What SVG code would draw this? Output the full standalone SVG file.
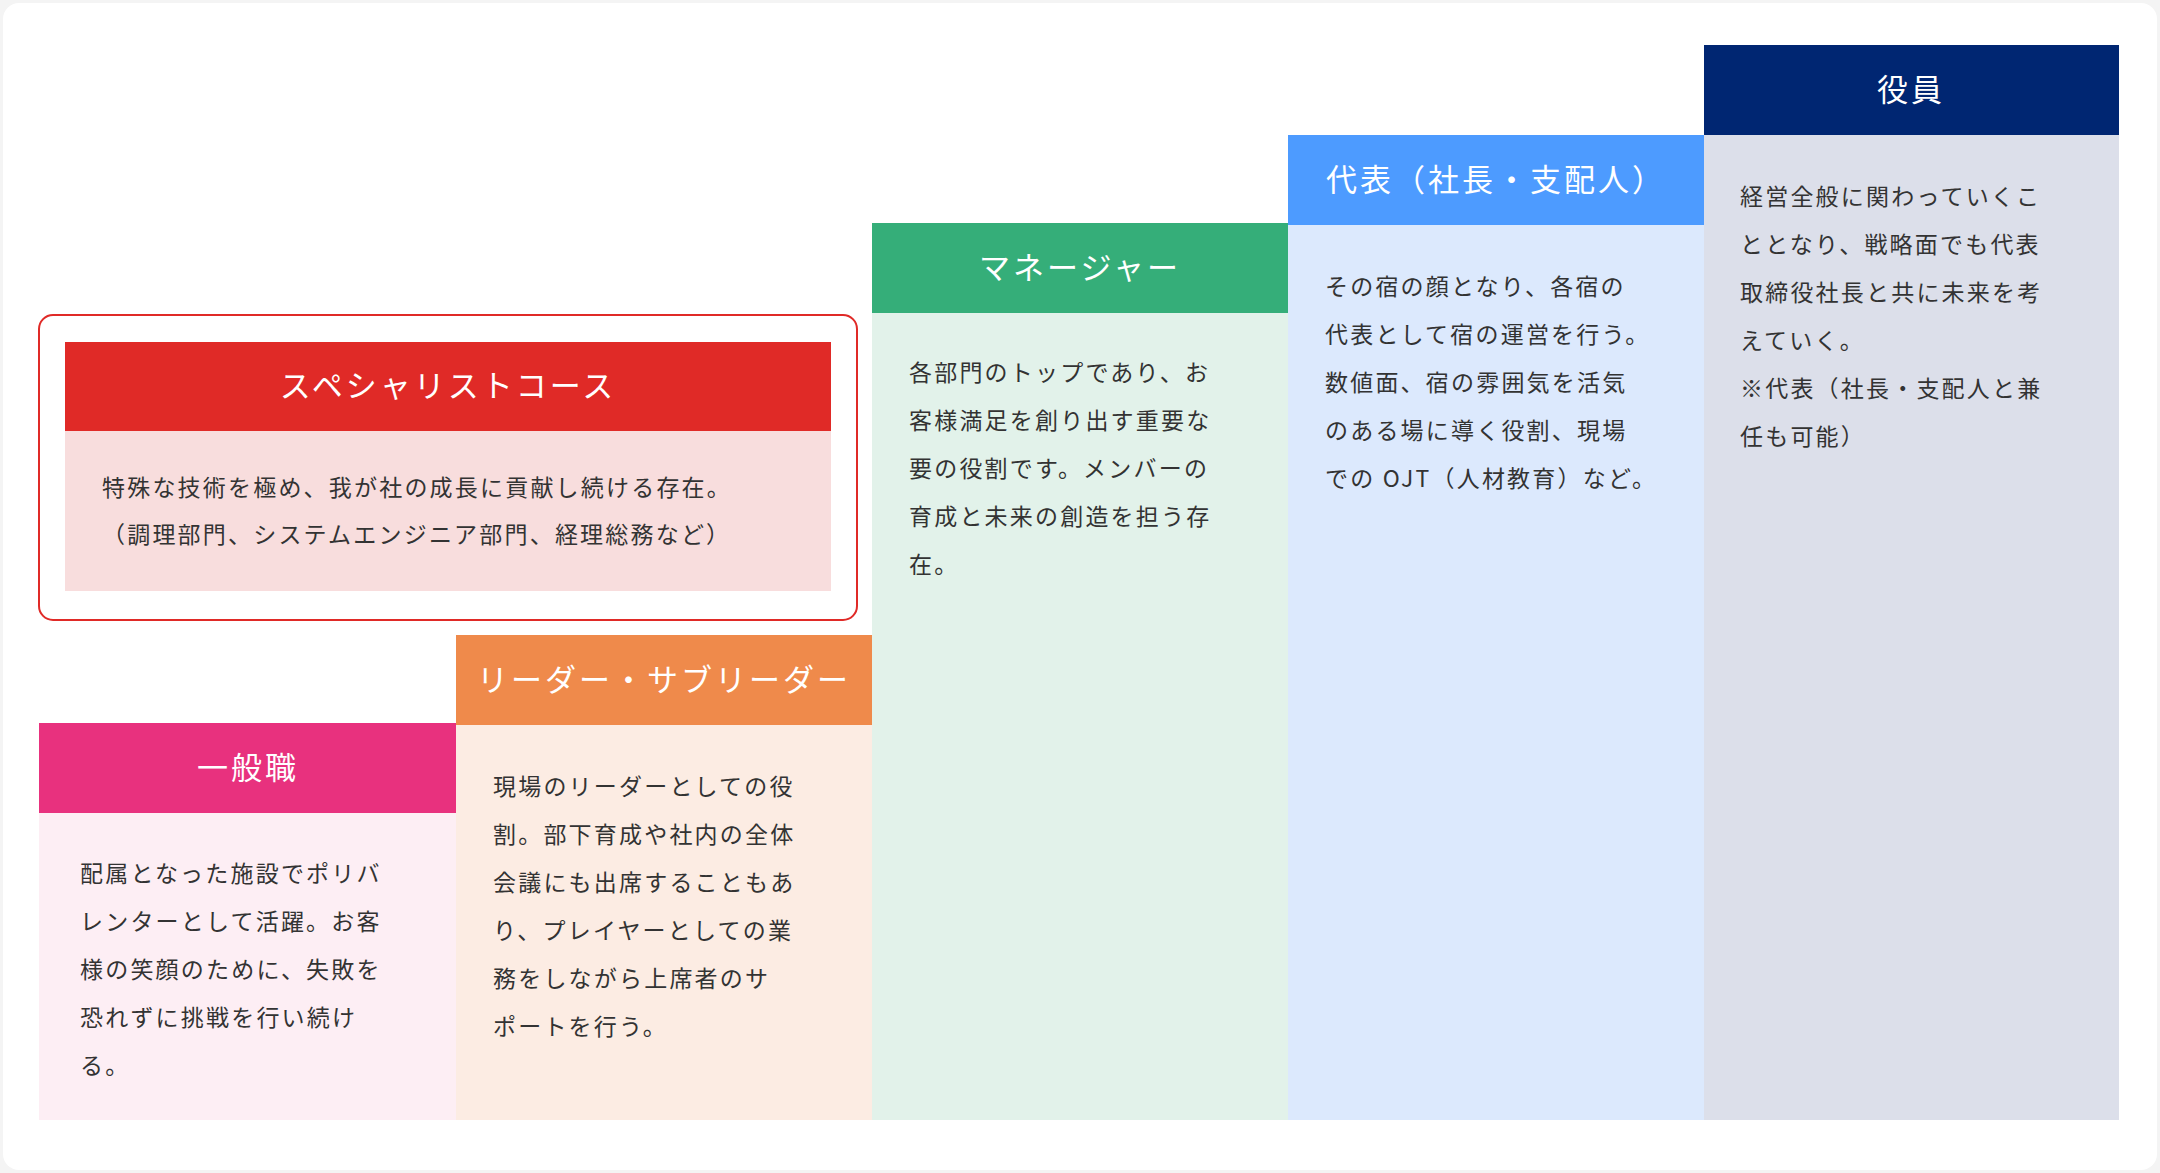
<svg xmlns="http://www.w3.org/2000/svg" width="2160" height="1173" viewBox="0 0 2160 1173">
<style>
.h{font-family:"Noto Sans CJK JP","Noto Sans",sans-serif;font-size:31px;fill:#fff;text-anchor:middle;letter-spacing:3px}
.t{font-family:"Noto Sans CJK JP","Noto Sans",sans-serif;font-size:23px;fill:#333;letter-spacing:2.2px}
</style>
<rect width="2160" height="1173" fill="#f4f4f4"/>
<rect x="3" y="3" width="2154" height="1167" rx="16" fill="#fff"/>
<g id="ippan">
<rect x="39" y="723" width="417" height="397" fill="#fdeef4"/>
<rect x="39" y="723" width="417" height="90" fill="#e8317e"/>
<text class="h" x="248" y="779">一般職</text>
<text class="t" x="80" y="882">配属となった施設でポリバ</text>
<text class="t" x="80" y="930">レンターとして活躍。お客</text>
<text class="t" x="80" y="978">様の笑顔のために、失敗を</text>
<text class="t" x="80" y="1026">恐れずに挑戦を行い続け</text>
<text class="t" x="80" y="1074">る。</text>
</g>
<g id="leader">
<rect x="456" y="635" width="416" height="485" fill="#fcece3"/>
<rect x="456" y="635" width="416" height="90" fill="#ef8a4b"/>
<text class="h" x="664" y="691">リーダー・サブリーダー</text>
<text class="t" x="493" y="795">現場のリーダーとしての役</text>
<text class="t" x="493" y="843">割。部下育成や社内の全体</text>
<text class="t" x="493" y="891">会議にも出席することもあ</text>
<text class="t" x="493" y="939">り、プレイヤーとしての業</text>
<text class="t" x="493" y="987">務をしながら上席者のサ</text>
<text class="t" x="493" y="1035">ポートを行う。</text>
</g>
<g id="manager">
<rect x="872" y="223" width="416" height="897" fill="#e2f2ea"/>
<rect x="872" y="223" width="416" height="90" fill="#35ae79"/>
<text class="h" x="1080" y="279">マネージャー</text>
<text class="t" x="909" y="381">各部門のトップであり、お</text>
<text class="t" x="909" y="429">客様満足を創り出す重要な</text>
<text class="t" x="909" y="477">要の役割です。メンバーの</text>
<text class="t" x="909" y="525">育成と未来の創造を担う存</text>
<text class="t" x="909" y="573">在。</text>
</g>
<g id="daihyo">
<rect x="1288" y="135" width="416" height="985" fill="#dce9fd"/>
<rect x="1288" y="135" width="416" height="90" fill="#4d9bff"/>
<text class="h" x="1496" y="191">代表（社長・支配人）</text>
<text class="t" x="1325" y="295">その宿の顔となり、各宿の</text>
<text class="t" x="1325" y="343">代表として宿の運営を行う。</text>
<text class="t" x="1325" y="391">数値面、宿の雰囲気を活気</text>
<text class="t" x="1325" y="439">のある場に導く役割、現場</text>
<text class="t" x="1325" y="487">での OJT（人材教育）など。</text>
</g>
<g id="yakuin">
<rect x="1704" y="45" width="415" height="1075" fill="#dcdfea"/>
<rect x="1704" y="45" width="415" height="90" fill="#002672"/>
<text class="h" x="1911" y="101">役員</text>
<text class="t" x="1740" y="205">経営全般に関わっていくこ</text>
<text class="t" x="1740" y="253">ととなり、戦略面でも代表</text>
<text class="t" x="1740" y="301">取締役社長と共に未来を考</text>
<text class="t" x="1740" y="349">えていく。</text>
<text class="t" x="1740" y="397">※代表（社長・支配人と兼</text>
<text class="t" x="1740" y="445">任も可能）</text>
</g>
<g id="specialist">
<rect x="39" y="315" width="818" height="305" rx="14" fill="#fff" stroke="#e02a27" stroke-width="2"/>
<rect x="65" y="431" width="766" height="160" fill="#f8dddd"/>
<rect x="65" y="342" width="766" height="89" fill="#e02a27"/>
<text class="h" x="448" y="397">スペシャリストコース</text>
<text class="t" x="102" y="496">特殊な技術を極め、我が社の成長に貢献し続ける存在。</text>
<text class="t" x="102" y="543">（調理部門、システムエンジニア部門、経理総務など）</text>
</g>
<g id="connectors"></g>
</svg>
